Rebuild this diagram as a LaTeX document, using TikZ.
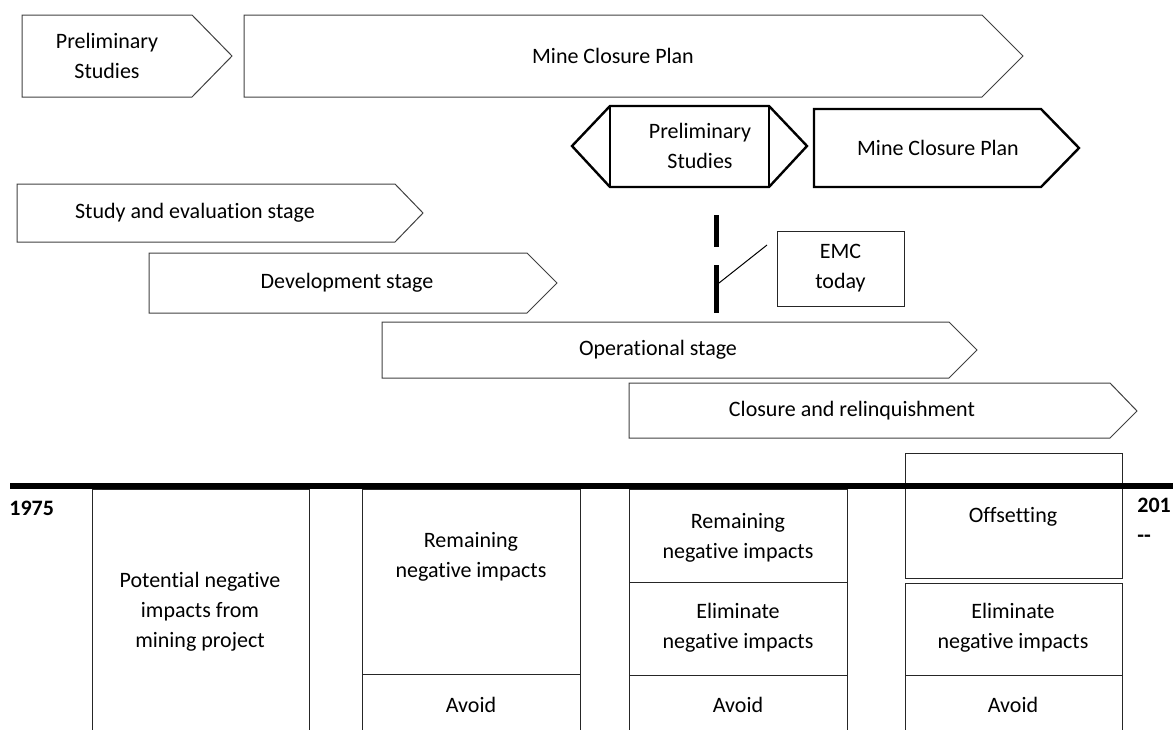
\documentclass[tikz,border=0pt]{standalone}
\usepackage{fontspec}
\setmainfont[Ligatures=NoCommon]{Carlito}

\begin{document}
\begin{tikzpicture}[x=0.5pt,y=-0.5pt,
    phase/.style={draw=black!75, line width=0.5pt},
    keyphase/.style={draw=black, line width=1.2pt},
    cell/.style={draw=black!85, line width=0.5pt},
    lbl/.style={align=center, inner sep=0pt, font=\fontsize{11}{15}\selectfont},
    yearlbl/.style={align=left, inner sep=0pt, font=\fontsize{11}{15}\selectfont\bfseries}]
  \useasboundingbox (0,0) rectangle (1173,729);
  \clip (0,0) rectangle (1173,729);

  % plan arrows, first row
  \draw[phase] (22,15) -- (192,15) -- (232,56) -- (192,97) -- (22,97) -- cycle;
  \node[lbl] (prelim) at (107,56) {Preliminary\\Studies};
  \draw[phase] (244,15) -- (982,15) -- (1023,56) -- (982,97) -- (244,97) -- cycle;
  \node[lbl] (closureplan) at (613,56) {Mine Closure Plan};

  % plan arrows, second row
  \draw[keyphase] (572,146) -- (610,106) -- (769,106) -- (807,146) -- (769,187) -- (610,187) -- cycle;
  \draw[keyphase] (610,106) -- (610,187) (769,106) -- (769,187);
  \node[lbl] (prelimnow) at (700,146) {Preliminary\\Studies};
  \draw[keyphase] (814,109) -- (1041,109) -- (1079,148) -- (1041,187) -- (814,187) -- cycle;
  \node[lbl] (closureplannow) at (938,148) {Mine Closure Plan};

  % mining stages
  \draw[phase] (17,184) -- (395,184) -- (423,213) -- (395,242) -- (17,242) -- cycle;
  \node[lbl] (study) at (195,213) {Study and evaluation stage};
  \draw[phase] (149,253) -- (527,253) -- (557,283) -- (527,313) -- (149,313) -- cycle;
  \node[lbl] (develop) at (347,283) {Development stage};
  \draw[phase] (382,322) -- (949,322) -- (977,350) -- (949,378) -- (382,378) -- cycle;
  \node[lbl] (operate) at (658,350) {Operational stage};
  \draw[phase] (629,383) -- (1110,383) -- (1137,411) -- (1110,438) -- (629,438) -- cycle;
  \node[lbl] (relinquish) at (852,411) {Closure and relinquishment};

  % today marker
  \draw[line width=2.5pt] (716,215) -- (716,247) (716,265) -- (716,313);
  \node[cell, lbl, minimum width=63.5pt, minimum height=37.5pt] (emc) at (840.5,268.5) {EMC\\today};
  \coordinate (emcnote) at (767,245);
  \coordinate (today) at (719,283);
  \draw[line width=0.5pt] (emcnote) -- (today);

  % impact columns
  \draw[cell] (92,489) rectangle (309,760);
  \node[lbl] (potential) at (200,612) {Potential negative\\impacts from\\mining project};

  \draw[cell] (362,489) rectangle (580,674);
  \node[lbl] (remainB) at (471,557) {Remaining\\negative impacts};
  \draw[cell] (362,674) rectangle (580,760);
  \node[lbl] (avoidB) at (471,705) {Avoid};

  \draw[cell] (629,489) rectangle (847,582);
  \node[lbl] (remainC) at (738,538) {Remaining\\negative impacts};
  \draw[cell] (629,582) rectangle (847,675);
  \node[lbl] (elimC) at (738,628) {Eliminate\\negative impacts};
  \draw[cell] (629,675) rectangle (847,760);
  \node[lbl] (avoidC) at (738,705) {Avoid};

  \draw[cell] (905,453) rectangle (1122,578);
  \node[lbl] (offset) at (1013,517) {Offsetting};
  \draw[cell] (905,583) rectangle (1122,675);
  \node[lbl] (elimD) at (1013,628) {Eliminate\\negative impacts};
  \draw[cell] (905,675) rectangle (1122,760);
  \node[lbl] (avoidD) at (1013,705) {Avoid};

  % time axis
  \draw[line width=3pt] (10,486) -- (1173,486);
  \node[yearlbl, anchor=west] (start) at (9,508) {1975};
  \node[yearlbl, anchor=north west] (end) at (1137,498) {201\\-{}-};
\end{tikzpicture}
\end{document}
